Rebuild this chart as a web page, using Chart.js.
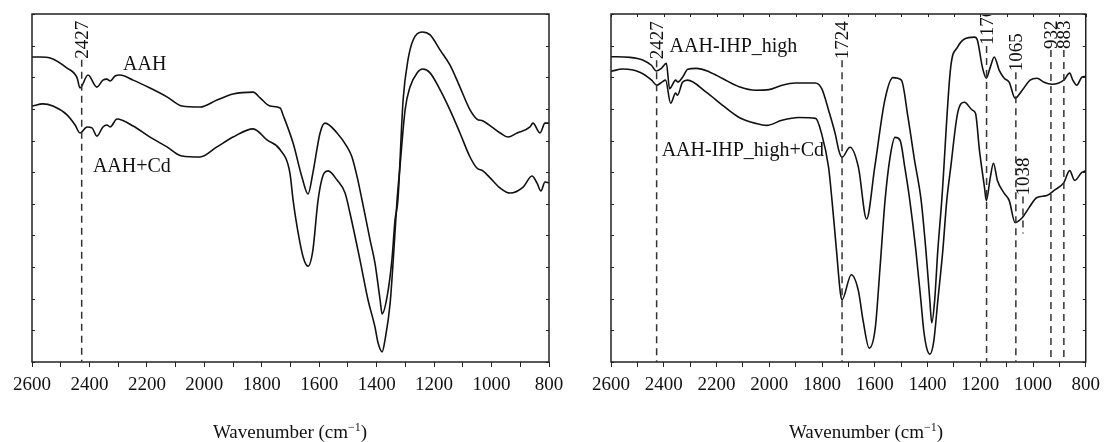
<!DOCTYPE html>
<html>
<head>
<meta charset="utf-8">
<script src="https://cdn.jsdelivr.net/npm/chart.js@4.4.0/dist/chart.umd.min.js"></script>
<style>
  body { margin: 0; background: #fff; width: 1107px; height: 442px; position: relative; overflow: hidden; font-family: "Liberation Serif", serif; }
  canvas { position: absolute; top: 0; }
  #leftChart { left: 0; }
  #rightChart { left: 575px; }
  .xtitle { position: absolute; top: 422px; font-size: 19px; line-height: 19px; color: #111; white-space: nowrap; transform: translateX(-50%); }
  .xtitle sup { font-size: 12px; line-height: 0; vertical-align: 7px; }
</style>
</head>
<body>
<canvas id="leftChart" width="575" height="442"></canvas>
<canvas id="rightChart" width="532" height="442"></canvas>
<div class="xtitle" style="left:290px">Wavenumber (cm<sup>−1</sup>)</div>
<div class="xtitle" style="left:866px">Wavenumber (cm<sup>−1</sup>)</div>
<script>
// FTIR spectra (transmittance, arbitrary units 0-110)

// left panel: AAH
const wnAAH = [2600, 2572, 2537, 2478, 2443, 2433, 2405, 2374, 2353, 2339, 2328, 2311, 2294, 2248, 2189, 2130, 2078, 2015, 1956, 1900, 1830, 1806, 1771, 1736, 1726, 1691, 1660, 1639, 1622, 1597, 1580, 1538, 1503, 1486, 1468, 1451, 1423, 1406, 1388, 1381, 1364, 1347, 1336, 1326, 1308, 1291, 1273, 1242, 1214, 1179, 1145, 1110, 1075, 1051, 1030, 970, 943, 911, 866, 856, 831, 814, 800];
const tAAH = [96.4, 96.4, 96.1, 92.9, 89.8, 86.6, 90.7, 86.9, 89.1, 89.4, 88.8, 90.4, 90.7, 89.1, 86.6, 83.8, 80.9, 80.6, 82.8, 84.7, 85.3, 83.5, 80.9, 80.3, 78.1, 69.2, 58.4, 53.1, 59.8, 72.4, 75.5, 72.4, 68.0, 64.8, 58.5, 51.2, 38.6, 31.3, 19.6, 15.2, 20.5, 32.2, 44.9, 51.2, 82.8, 95.5, 101.8, 104.3, 103.4, 98.6, 93.9, 86.9, 79.7, 76.8, 76.2, 72.4, 71.1, 72.4, 74.3, 75.5, 72.4, 75.5, 75.5];

// left panel: AAH+Cd
const wnAAHCd = [2600, 2562, 2527, 2478, 2450, 2433, 2408, 2391, 2374, 2353, 2339, 2328, 2304, 2248, 2189, 2130, 2078, 2015, 1956, 1900, 1830, 1782, 1736, 1702, 1691, 1677, 1656, 1639, 1622, 1604, 1583, 1569, 1538, 1510, 1493, 1458, 1430, 1406, 1395, 1381, 1371, 1353, 1340, 1329, 1319, 1301, 1284, 1259, 1239, 1214, 1179, 1145, 1110, 1075, 1051, 1030, 1005, 970, 936, 890, 859, 842, 828, 814, 800];
const tAAHCd = [80.9, 81.6, 80.9, 78.1, 74.9, 72.4, 74.3, 74.0, 71.4, 74.3, 74.9, 74.3, 76.8, 74.6, 71.1, 68.0, 65.1, 64.8, 68.0, 71.1, 73.7, 70.2, 67.1, 59.7, 51.2, 42.7, 33.2, 30.3, 35.4, 51.2, 59.7, 60.4, 57.5, 53.4, 47.1, 32.2, 19.6, 11.1, 6.0, 3.2, 7.0, 18.7, 35.4, 51.2, 61.6, 79.7, 86.9, 91.4, 92.6, 91.4, 86.0, 79.7, 72.4, 64.8, 61.3, 60.4, 58.2, 55.0, 53.4, 55.3, 58.8, 56.6, 54.1, 56.9, 56.6];

// right panel: AAH-IHP_high
const wnHigh = [2600, 2528, 2478, 2447, 2428, 2409, 2390, 2378, 2355, 2347, 2328, 2309, 2277, 2227, 2177, 2114, 2051, 2001, 1951, 1901, 1826, 1801, 1775, 1750, 1735, 1724, 1694, 1662, 1631, 1600, 1562, 1531, 1499, 1474, 1449, 1424, 1406, 1391, 1384, 1373, 1361, 1346, 1312, 1286, 1260, 1222, 1211, 1192, 1177, 1162, 1147, 1128, 1109, 1090, 1068, 1041, 1011, 985, 958, 928, 883, 861, 849, 834, 815, 800];
const tHigh = [96.5, 96.3, 95.4, 93.8, 92.0, 92.8, 94.4, 86.4, 89.1, 88.5, 90.1, 92.5, 92.8, 91.7, 89.6, 87.0, 85.9, 86.1, 87.5, 88.2, 88.2, 86.4, 79.6, 72.2, 66.5, 64.7, 67.9, 61.6, 45.2, 61.6, 82.7, 89.9, 89.1, 77.4, 63.7, 51.0, 35.2, 19.3, 12.4, 19.3, 35.2, 51.0, 93.2, 99.5, 102.1, 102.7, 101.8, 93.2, 89.7, 93.2, 96.4, 92.2, 89.7, 88.4, 83.4, 85.9, 89.1, 89.7, 88.4, 87.8, 89.1, 91.3, 89.1, 87.5, 90.0, 90.3];

// right panel: AAH-IHP_high+Cd
const wnHighCd = [2600, 2555, 2491, 2446, 2427, 2408, 2393, 2374, 2355, 2348, 2329, 2310, 2239, 2178, 2114, 2050, 2009, 1952, 1888, 1824, 1802, 1775, 1762, 1745, 1730, 1724, 1689, 1662, 1644, 1621, 1598, 1580, 1561, 1542, 1523, 1504, 1486, 1467, 1444, 1425, 1414, 1403, 1391, 1376, 1361, 1342, 1327, 1312, 1286, 1260, 1230, 1218, 1203, 1184, 1177, 1162, 1150, 1135, 1109, 1090, 1068, 1041, 1015, 985, 947, 921, 883, 861, 842, 815, 800];
const tHighCd = [91.9, 92.6, 91.6, 89.1, 87.5, 88.4, 89.1, 81.8, 85.0, 84.3, 88.4, 89.1, 85.3, 81.2, 77.3, 75.4, 74.8, 76.4, 77.3, 77.0, 72.3, 61.5, 51.0, 35.2, 21.6, 19.7, 27.6, 22.5, 13.0, 4.4, 10.8, 29.8, 51.0, 64.7, 71.0, 70.1, 61.5, 51.0, 35.2, 19.3, 9.8, 4.4, 2.5, 6.7, 19.3, 35.2, 51.0, 61.5, 78.6, 82.1, 79.6, 78.6, 66.9, 55.2, 51.0, 58.3, 62.8, 57.4, 53.3, 51.0, 44.1, 45.6, 48.8, 52.0, 52.6, 54.2, 56.7, 60.5, 57.4, 59.9, 60.5];

// marked bands (cm-1)
const leftPeaks = [2427];
const rightPeaks = [2427, 1724, 1176, 1065, 1038, 932, 883];

const serif = '"Liberation Serif", "Times New Roman", serif';
const ink = '#111';

function toPoints(xs, ys) {
  return xs.map((x, i) => ({ x: x, y: ys[i] }));
}

// frame, inward ticks, dashed band markers and curve names
const spectrumDecor = {
  id: 'spectrumDecor',
  afterDatasetsDraw(chart, args, opts) {
    const { ctx, chartArea: a, scales: { x, y } } = chart;
    ctx.save();

    ctx.strokeStyle = '#222';
    ctx.lineWidth = 1.5;
    ctx.strokeRect(a.left, a.top, a.right - a.left, a.bottom - a.top);

    ctx.lineWidth = 1;
    y.ticks.forEach(t => {
      const py = Math.round(y.getPixelForValue(t.value)) + 0.5;
      ctx.beginPath();
      ctx.moveTo(a.left, py); ctx.lineTo(a.left + 3, py);
      ctx.moveTo(a.right, py); ctx.lineTo(a.right - 3, py);
      ctx.stroke();
    });
    if (opts.topTicks) {
      x.ticks.forEach(t => {
        const px = Math.round(x.getPixelForValue(t.value)) + 0.5;
        ctx.beginPath();
        ctx.moveTo(px, a.top); ctx.lineTo(px, a.top + 3);
        ctx.stroke();
      });
    }

    // everything below stays inside the frame (the 1176 label is cut by it)
    ctx.beginPath();
    ctx.rect(a.left, a.top + 1, a.right - a.left, a.bottom - a.top);
    ctx.clip();

    ctx.strokeStyle = '#333';
    ctx.lineWidth = 1.5;
    ctx.setLineDash([7, 5]);
    opts.marks.forEach(m => {
      const px = x.getPixelForValue(m.wn);
      ctx.beginPath();
      ctx.moveTo(px, y.getPixelForValue(m.top));
      ctx.lineTo(px, y.getPixelForValue(m.bottom || 0));
      ctx.stroke();
    });
    ctx.setLineDash([]);

    ctx.fillStyle = ink;
    ctx.font = '19px ' + serif;
    ctx.textAlign = 'left';
    ctx.textBaseline = 'middle';
    opts.marks.forEach(m => {
      ctx.save();
      ctx.translate(x.getPixelForValue(m.wn) + 1, y.getPixelForValue(m.top) - 1);
      ctx.rotate(-Math.PI / 2);
      ctx.fillText(String(m.wn), 0, 0);
      ctx.restore();
    });

    ctx.font = '20px ' + serif;
    opts.names.forEach(n => {
      ctx.fillText(n.text, x.getPixelForValue(n.wn), y.getPixelForValue(n.at));
    });
    ctx.restore();
  }
};

function makeChart(id, series, yWidth, padRight, decor) {
  return new Chart(document.getElementById(id), {
    type: 'line',
    data: {
      datasets: series.map(s => ({
        label: s.label,
        data: s.data,
        borderColor: ink,
        borderWidth: 1.6,
        pointRadius: 0,
        fill: false,
        cubicInterpolationMode: 'monotone'
      }))
    },
    options: {
      responsive: false,
      animation: false,
      layout: { padding: { top: 14, right: padRight, left: 0, bottom: 0 } },
      scales: {
        x: {
          type: 'linear',
          reverse: true,
          min: 800,
          max: 2600,
          afterFit(scale) { scale.height = 80; },
          border: { display: false },
          grid: { drawOnChartArea: false, drawTicks: true, tickLength: 5, color: '#222', lineWidth: 1 },
          ticks: {
            stepSize: 100,
            autoSkip: false,
            maxRotation: 0,
            padding: 7,
            color: ink,
            font: { family: serif, size: 19 },
            callback: v => (v % 200 === 0 ? v : '')
          }
        },
        y: {
          min: 0,
          max: 110,
          afterFit(scale) { scale.width = yWidth; },
          border: { display: false },
          grid: { display: false },
          ticks: { stepSize: 10, display: false }
        }
      },
      plugins: {
        legend: { display: false },
        tooltip: { enabled: false },
        spectrumDecor: decor
      }
    },
    plugins: [spectrumDecor]
  });
}

makeChart('leftChart', [
  { label: 'AAH', data: toPoints(wnAAH, tAAH) },
  { label: 'AAH+Cd', data: toPoints(wnAAHCd, tAAHCd) }
], 32, 26, {
  topTicks: false,
  marks: leftPeaks.map(wn => ({ wn: wn, top: 95.5 })),
  names: [
    { text: 'AAH', wn: 2283, at: 93.9 },
    { text: 'AAH+Cd', wn: 2388, at: 61.6 }
  ]
});

const rightTops = { 2427: 95.4, 1724: 95.4, 1176: 99.9, 1065: 91.6, 1038: 52.3, 932: 98.6, 883: 98.6 };
makeChart('rightChart', [
  { label: 'AAH-IHP_high', data: toPoints(wnHigh, tHigh) },
  { label: 'AAH-IHP_high+Cd', data: toPoints(wnHighCd, tHighCd) }
], 36, 18, {
  topTicks: true,
  marks: rightPeaks.map(wn => ({ wn: wn, top: rightTops[wn], bottom: wn === 1038 ? 40.6 : 0 })),
  names: [
    { text: 'AAH-IHP_high', wn: 2378, at: 99.5 },
    { text: 'AAH-IHP_high+Cd', wn: 2408, at: 66.9 }
  ]
});
</script>
</body>
</html>
